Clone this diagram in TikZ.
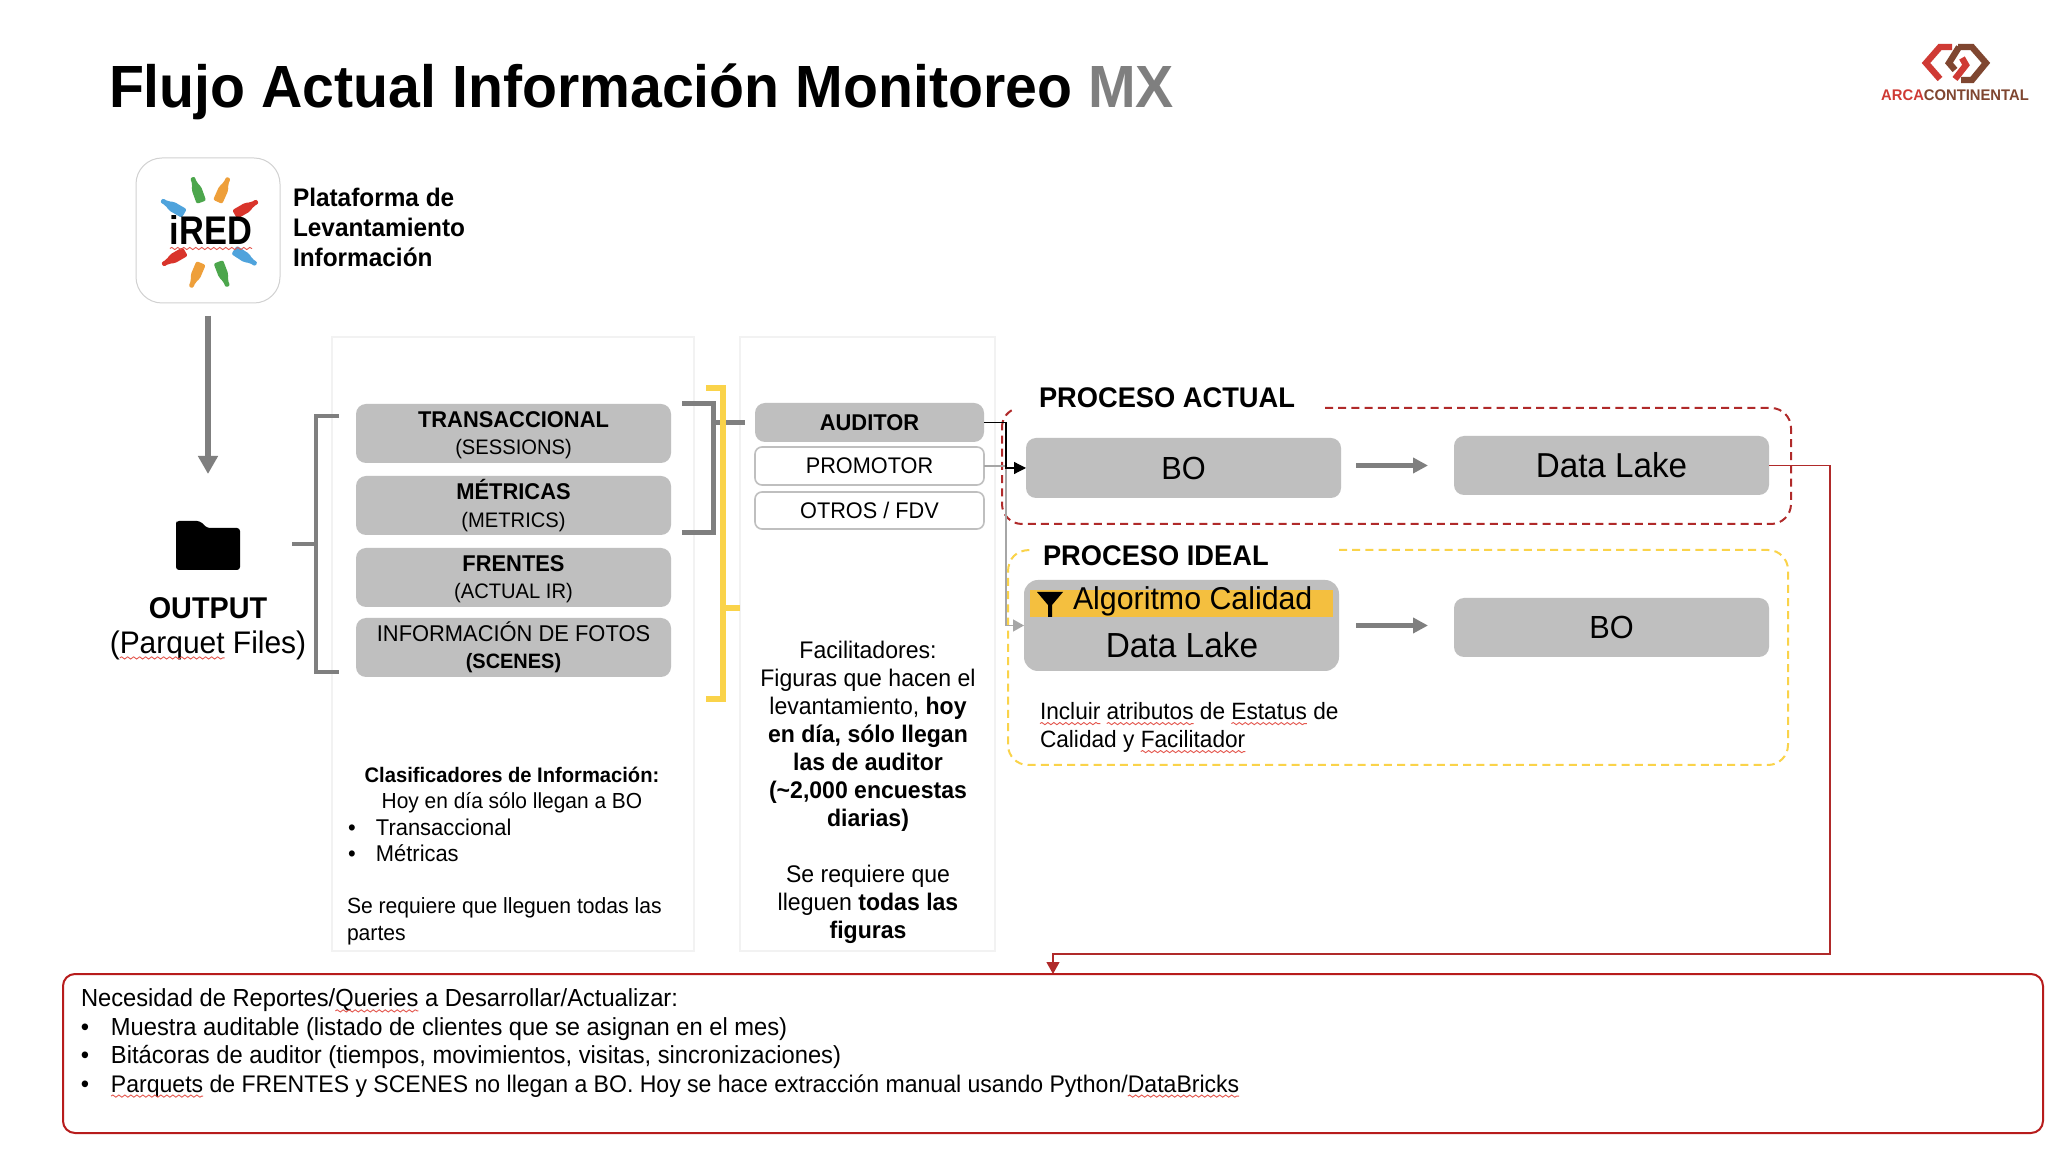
\documentclass[tikz,border=0pt]{standalone}
\usepackage{fontspec}
\setmainfont[FakeStretch=0.96]{Liberation Sans}
\newfontfamily\narrowf[FakeStretch=0.86]{Liberation Sans}
\usetikzlibrary{arrows.meta,decorations.pathmorphing}
\definecolor{boxgray}{HTML}{BFBFBF}
\definecolor{brk}{HTML}{7F7F7F}
\definecolor{ylw}{HTML}{FAD34A}
\definecolor{ylwfill}{HTML}{F4BF3F}
\definecolor{redd}{HTML}{B02A2A}
\definecolor{redline}{HTML}{B71C1C}
\definecolor{panel}{HTML}{F2F2F2}
\definecolor{conngray}{HTML}{A6A6A6}
\definecolor{bblue}{HTML}{4FA3DC}
\definecolor{bgreen}{HTML}{4CA64C}
\definecolor{borange}{HTML}{EE9F3A}
\definecolor{bred}{HTML}{D9342B}
\definecolor{sqred}{HTML}{E4574E}
\definecolor{lgred}{HTML}{CF3A34}
\definecolor{lgbrown}{HTML}{7F4630}
\newsavebox\sqbox
\newlength\sqlen
\newcommand\sq[1]{\sbox\sqbox{#1}\setlength\sqlen{\wd\sqbox}\rlap{\usebox\sqbox}\tikz[overlay,baseline=0pt]{\draw[color=sqred,line width=0.45pt,decorate,decoration={snake,amplitude=0.55pt,segment length=3pt}] (0pt,-2pt) -- (\sqlen,-2pt);}\hspace{\sqlen}}
\newcommand\fs[2]{\fontsize{#1}{#2}\selectfont}
\newcommand\rnode[7]{\pgfmathsetmacro\myw{(#4-#2)*0.5}\pgfmathsetmacro\myh{(#5-#3)*0.5}\node[#6,minimum width=\myw pt,minimum height=\myh pt] (#1) at ({(#2+#4)/2},{(#3+#5)/2}) {#7};}
\newcommand\bottle[4]{\begin{scope}[shift={(#1,#2)},rotate=#3]\fill[#4,rounded corners=1pt] (-13,-5) -- (2,-5) -- (7,-2.4) -- (13.5,-2.4) -- (13.5,2.4) -- (7,2.4) -- (2,5) -- (-13,5) -- cycle;\end{scope}}
\tikzset{
 base/.style={inner sep=0pt,outer sep=0pt,align=center,text=black},
 graybox/.style={base,fill=boxgray,rounded corners=5pt,font=\fs{11.4}{13.6}},
 whitebox/.style={base,draw=boxgray,fill=white,line width=0.8pt,rounded corners=3.5pt,font=\fs{11.3}{13.6}},
 bigbox/.style={base,fill=boxgray,rounded corners=5pt,font=\fs{16}{18}},
 txtl/.style={base,align=left,anchor=base west},
 txtc/.style={base,anchor=center},
 panelbox/.style={base,draw=panel,line width=0.8pt},
 brack/.style={draw=brk,line width=2.2pt},
 ybrack/.style={draw=ylw,line width=2.6pt},
 bigarrow/.style={draw=brk,line width=2.4pt,-{Triangle[length=7.5pt,width=7.5pt]}},
 dashr/.style={draw=redd,line width=1pt,dash pattern=on 4pt off 2.6pt},
 dashy/.style={draw=ylw,line width=1pt,dash pattern=on 4pt off 2.6pt},
}
\begin{document}
\begin{tikzpicture}[x=0.5pt,y=-0.5pt]
\useasboundingbox[fill=white] (0,0) rectangle (2058,1154);
% title
\node[txtl,font=\bfseries\fs{29.8}{36}] (title) at (109,108) {Flujo Actual Información Monitoreo \textcolor{brk}{MX}};
% logo
\begin{scope}[line width=3.2pt,line join=miter]
\draw[lgred] (1952,47) -- (1940,47) -- (1926,63) -- (1940,79);
\draw[lgbrown] (1958,47) -- (1972,47) -- (1986,63) -- (1972,80) -- (1961,80);
\draw[lgbrown] (1959,47) -- (1949,63) -- (1955,70);
\draw[lgred] (1962,58) -- (1966,65) -- (1955,79);
\end{scope}
\node[txtc,font=\bfseries\fs{7.7}{8}] (logotext) at (1955,95) {\textcolor{lgred}{ARCA}\textcolor{lgbrown}{CONTINENTAL}};
% iRED
\rnode{ired}{136}{158}{280}{303}{base,draw=black!18,fill=white,line width=0.5pt,rounded corners=13pt}{}
\bottle{173}{207}{150}{bblue}
\bottle{197}{190}{110}{bgreen}
\bottle{223}{190}{66}{borange}
\bottle{246}{208}{30}{bred}
\bottle{174}{258}{210}{bred}
\bottle{196}{275}{247}{borange}
\bottle{223}{274}{291}{bgreen}
\bottle{245}{257}{327}{bblue}
\node[txtc,font=\narrowf\bfseries\fs{20}{22}] (iredtxt) at (211,230) {\sq{iRED}};
\node[txtl,font=\bfseries\fs{12.7}{15},anchor=north west] (plat) at (293,188) {Plataforma de\\Levantamiento\\Información};
% output
\rnode{folder}{176}{521}{240}{570}{base}{}
\fill[black,rounded corners=1.5pt] (176,524) -- (176,521) -- (200,521) -- (207,528) -- (240,528) -- (240,570) -- (176,570) -- cycle;
\draw[bigarrow,line width=3pt,-{Triangle[length=9pt,width=9.5pt]}] ([yshift=-6.5pt]ired.south) -- ([yshift=23.5pt]folder.north);
\node[txtc,font=\fs{15.6}{17.7}] (output) at (208,629) {\fs{15}{17.7}\textbf{OUTPUT}\\(\sq{Parquet} Files)};
% panels
\rnode{panelA}{332}{337}{694}{951}{panelbox}{}
\rnode{panelB}{740}{337}{995}{951}{panelbox}{}
% left bracket
\coordinate (lbt) at (339,416); \coordinate (lbb) at (339,672); \coordinate (lbm) at (292,544);
\draw[brack] (lbt) -- (316,416) -- (316,672) -- (lbb);
\draw[brack] (lbm) -- (316,544);
% boxes
\rnode{trans}{356}{404}{671}{463}{graybox}{\vphantom{É}\textbf{TRANSACCIONAL}\\\fs{10.5}{13.6}(SESSIONS)}
\rnode{metr}{356}{476}{671}{535}{graybox}{\vphantom{É}\textbf{MÉTRICAS}\\\fs{10.5}{13.6}(METRICS)}
\rnode{fren}{356}{548}{671}{607}{graybox}{\vphantom{É}\textbf{FRENTES}\\\fs{10.5}{13.6}(ACTUAL IR)}
\rnode{foto}{356}{618}{671}{677}{graybox}{\vphantom{É}INFORMACIÓN DE FOTOS\\\fs{10.4}{13.6}\textbf{(SCENES)}}
% gray right bracket
\coordinate (rbt) at (682,404); \coordinate (rbb) at (682,533);
\draw[brack,line width=2.5pt] (rbt) -- (713,404) -- (713,533) -- (rbb);
\draw[brack,line width=2.5pt] (713,423) -- (745,423);
% yellow bracket
\coordinate (ybt) at (706,388); \coordinate (ybb) at (706,699); \coordinate (ybm) at (740,608);
\draw[ybrack] (ybt) -- (723,388) -- (723,699) -- (ybb);
\draw[ybrack] (723,608) -- (ybm);
% role boxes
\rnode{aud}{755}{403}{984}{442}{graybox}{\textbf{AUDITOR}}
\rnode{prom}{755}{447}{984}{485}{whitebox}{PROMOTOR}
\rnode{otros}{755}{492}{984}{529}{whitebox}{OTROS / FDV}
% dashed process frames
\draw[dashr,rounded corners=10pt] (1325,408) -- (1791,408) -- (1791,524) -- (1002,524) -- (1002,428);
\draw[dashr] (1002,428) .. controls (1002,419) and (1006,413) .. (1014,409);
\draw[dashy,rounded corners=10pt] (1339,550) -- (1788,550) -- (1788,765) -- (1008,765) -- (1008,572);
\draw[dashy] (1008,572) .. controls (1008,559) and (1016,550) .. (1030,550);
\node[txtl,font=\bfseries\fs{14.2}{18}] (pa) at (1039,408) {PROCESO ACTUAL};
\node[txtl,font=\bfseries\fs{14.2}{18}] (pi) at (1043,566) {PROCESO IDEAL};
% process boxes
\rnode{bo}{1026}{438}{1341}{498}{bigbox}{BO}
\rnode{dl}{1454}{436}{1769}{495}{bigbox}{\fs{17.3}{18}Data Lake}
\rnode{alg}{1024}{580}{1339}{671}{base,fill=boxgray,rounded corners=7pt}{}
\rnode{strip}{1030}{590}{1333}{617}{base,fill=ylwfill}{}
\fill[black] (1037,592) -- (1063,592) -- (1052,605) -- (1052,617) -- (1048,617) -- (1048,605) -- cycle;
\node[txtl,font=\fs{15.8}{18}] (algt) at (1073,610) {Algoritmo Calidad};
\node[txtc,font=\fs{17.4}{18}] (algd) at (1182,645) {Data Lake};
\rnode{bob}{1454}{598}{1769}{657}{bigbox}{BO}
\draw[bigarrow] ([xshift=7.5pt]bo.east |- dl.west) -- ([xshift=-13pt]dl.west);
\draw[bigarrow] ([xshift=8.5pt]alg.east) -- ([xshift=-13pt]bob.west |- alg.east);
% connectors
\coordinate (gv) at (1006,625.5);
\coordinate (bv) at (1006,468);
\coordinate (rv) at (1830,954);
\coordinate (rt) at (1053,974);
\draw[conngray,line width=0.7pt,-{Triangle[length=5.5pt,width=6pt]}] (prom.east) -| (gv) -- (alg.west);
\draw[black,line width=0.6pt,-{Triangle[length=6pt,width=6pt]}] (aud.east) -| (bv) -- (bo.west);
\draw[redd,line width=0.6pt,-{Triangle[length=6pt,width=6.5pt]}] (dl.east) -| (rv) -| (rt);
% texts
\node[txtl,anchor=north west,font=\fs{11.8}{14}] (inclt) at (1040,702.5) {\sq{Incluir} \sq{atributos} de \sq{Estatus} de\\Calidad y \sq{Facilitador}};
\node[txtc,font=\fs{10.9}{13}] (cl1) at (512,790.5) {\fs{10.5}{13}\textbf{Clasificadores de Información:}\\Hoy en día sólo llegan a BO};
\node[txtl,anchor=north west,font=\fs{11.4}{13}] (cl2) at (348,819) {\makebox[14pt][l]{•}Transaccional\\\makebox[14pt][l]{•}Métricas};
\node[txtl,anchor=north west,font=\fs{11}{13.2}] (cl3) at (347,898) {Se requiere que lleguen todas las\\partes};
\node[txtc,anchor=north,font=\fs{12}{14}] (fac) at (868,641.5) {Facilitadores:\\Figuras que hacen el\\levantamiento, \textbf{hoy}\\\textbf{en día, sólo llegan}\\\textbf{las de auditor}\\\textbf{(\textasciitilde 2,000 encuestas}\\\textbf{diarias)}\\[14pt]Se requiere que\\lleguen \textbf{todas las}\\\textbf{figuras}};
% bottom box
\rnode{need}{63}{974}{2043}{1133}{base,draw=redline,line width=1pt,rounded corners=6pt,fill=none}{}
\node[txtl,anchor=north west,font=\fs{12.35}{14.2}] (needt) at (81,989) {Necesidad de Reportes/\sq{Queries} a Desarrollar/Actualizar:\\\makebox[15pt][l]{•}Muestra auditable (listado de clientes que se asignan en el mes)\\\makebox[15pt][l]{•}Bitácoras de auditor (tiempos, movimientos, visitas, sincronizaciones)\\\makebox[15pt][l]{•}\fs{12}{14.2}\sq{Parquets} de FRENTES y SCENES no llegan a BO. Hoy se hace extracción manual usando Python/\sq{DataBricks}};
\end{tikzpicture}
\end{document}
